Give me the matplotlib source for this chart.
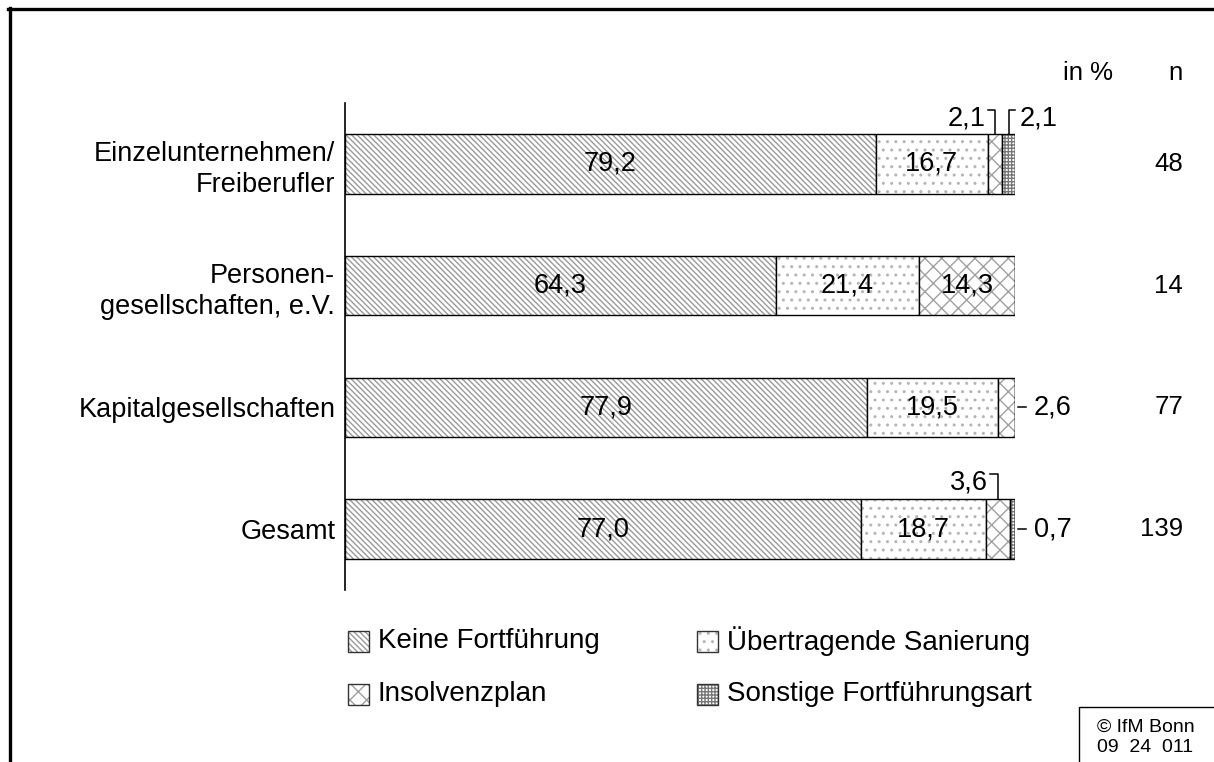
import matplotlib
matplotlib.use("Agg")
import matplotlib.pyplot as plt
from matplotlib.patches import Rectangle
from matplotlib.lines import Line2D

plt.rcParams['font.family'] = ['Liberation Sans', 'DejaVu Sans']
plt.rcParams['hatch.linewidth'] = 1.0

categories = ["Einzelunternehmen/\nFreiberufler", "Personen-\ngesellschaften, e.V.",
              "Kapitalgesellschaften", "Gesamt"]
series_names = ["Keine Fortführung", "Übertragende Sanierung", "Insolvenzplan",
                "Sonstige Fortführungsart"]
keine = [79.2, 64.3, 77.9, 77.0]
uebertragend = [16.7, 21.4, 19.5, 18.7]
insolvenzplan = [2.1, 14.3, 2.6, 3.6]
sonstige = [2.1, 0.0, 0.0, 0.7]
n_values = [48, 14, 77, 139]

series = [keine, uebertragend, insolvenzplan, sonstige]
hatches = ['\\\\\\\\\\\\', '..', 'xx', '+++++']
hatch_colors = ['#9a9a9a', '#b5b5b5', '#a0a0a0', '#777777']

W, H = 1214, 762
fig = plt.figure(figsize=(W / 100, H / 100), dpi=100)

def fx(px):
    return px / W

def fy(py):
    return 1 - py / H

FS_CAT = 19.5
FS_VAL = 19.5
FS_N = 18.5
FS_LEG = 20

ax = fig.add_axes([fx(345), fy(590), fx(1015) - fx(345), fy(103) - fy(590)])
ax.set_xlim(0, 100)
ax.set_ylim(3.5, -0.5)
for s in ['top', 'right', 'bottom']:
    ax.spines[s].set_visible(False)
ax.spines['left'].set_linewidth(1.2)
ax.set_xticks([])
ax.set_yticks(range(len(categories)))
ax.set_yticklabels(categories, fontsize=FS_CAT, ha='right', linespacing=1.25)
ax.tick_params(axis='y', length=0, pad=7)

ypos = list(range(len(categories)))
bh = 0.49
left = [0.0] * len(categories)
for vals, hatch, hc, name in zip(series, hatches, hatch_colors, series_names):
    ax.barh(ypos, vals, left=left, height=bh, color='white', edgecolor=hc,
            hatch=hatch, linewidth=0)
    ax.barh(ypos, vals, left=left, height=bh, fill=False, edgecolor='black',
            linewidth=1.0)
    left = [l + v for l, v in zip(left, vals)]

def fmt(v):
    return f"{v:.1f}".replace('.', ',')

# value labels inside segments
for i in ypos:
    ax.text(keine[i] / 2, i, fmt(keine[i]), ha='center', va='center', fontsize=FS_VAL)
    ax.text(keine[i] + uebertragend[i] / 2, i, fmt(uebertragend[i]),
            ha='center', va='center', fontsize=FS_VAL)
    if insolvenzplan[i] > 10:
        ax.text(keine[i] + uebertragend[i] + insolvenzplan[i] / 2, i,
                fmt(insolvenzplan[i]), ha='center', va='center', fontsize=FS_VAL)

lk = dict(color='black', lw=1.1, clip_on=False)
# Einzelunternehmen: two brackets above
i = 0
x_ins = keine[i] + uebertragend[i] + insolvenzplan[i] / 2
x_son = keine[i] + uebertragend[i] + insolvenzplan[i] + sonstige[i] / 2
ytop = i - bh / 2
yb = ytop - 0.195
ax.plot([x_ins - 1.0, x_ins, x_ins], [yb, yb, ytop], **lk)
ax.text(x_ins - 1.3, yb + 0.07, fmt(insolvenzplan[i]), ha='right', va='center', fontsize=FS_VAL)
ax.plot([x_son + 1.0, x_son, x_son], [yb, yb, ytop], **lk)
ax.text(x_son + 1.7, yb + 0.07, fmt(sonstige[i]), ha='left', va='center', fontsize=FS_VAL)

# Kapitalgesellschaften: dash to the right
i = 2
ax.plot([100.4, 101.7], [i, i], **lk)
ax.text(102.8, i, fmt(insolvenzplan[i]), ha='left', va='center', fontsize=FS_VAL)

# Gesamt: bracket above for Insolvenzplan, dash right for Sonstige
i = 3
x_ins = keine[i] + uebertragend[i] + insolvenzplan[i] / 2
ytop = i - bh / 2
yb = ytop - 0.21
ax.plot([x_ins - 1.3, x_ins, x_ins], [yb, yb, ytop], **lk)
ax.text(x_ins - 1.6, yb + 0.07, fmt(insolvenzplan[i]), ha='right', va='center', fontsize=FS_VAL)
ax.plot([100.4, 101.7], [i, i], **lk)
ax.text(102.8, i, fmt(sonstige[i]), ha='left', va='center', fontsize=FS_VAL)

# n column and header
fig.canvas.draw()
for i, nv in zip(ypos, n_values):
    y_disp = ax.transData.transform((0, i))[1]
    fig.text(fx(1183), y_disp / H, str(nv), ha='right', va='center', fontsize=FS_N)
fig.text(fx(1088), fy(73), "in %", ha='center', va='center', fontsize=FS_N)
fig.text(fx(1183), fy(73), "n", ha='right', va='center', fontsize=FS_N)

# legend (manual)
leg_items = [(348, 641), (697, 641), (348, 694), (697, 694)]
for (lx, ly), hatch, hc, name in zip(leg_items, hatches, hatch_colors, series_names):
    sq = 21
    r = Rectangle((fx(lx), fy(ly + sq / 2)), sq / W, sq / H, transform=fig.transFigure,
                  facecolor='white', edgecolor=hc, hatch=hatch, linewidth=0)
    fig.add_artist(r)
    r2 = Rectangle((fx(lx), fy(ly + sq / 2)), sq / W, sq / H, transform=fig.transFigure,
                   fill=False, edgecolor='#333333', linewidth=1.0)
    fig.add_artist(r2)
    fig.text(fx(lx + sq + 9), fy(ly), name, ha='left', va='center', fontsize=FS_LEG)

# frame lines
fig.add_artist(Line2D([fx(8), fx(1214)], [fy(8.5), fy(8.5)], transform=fig.transFigure,
                      color='black', lw=2.4))
fig.add_artist(Line2D([fx(9.5), fx(9.5)], [fy(7.5), fy(762)], transform=fig.transFigure,
                      color='black', lw=2.4))

# copyright box
box = Rectangle((fx(1079), fy(780)), (1230 - 1079) / W, (780 - 707) / H,
                transform=fig.transFigure, fill=False, edgecolor='black', lw=1.0)
fig.add_artist(box)
fig.text(fx(1097), fy(727), "© IfM Bonn", ha='left', va='center', fontsize=14)
fig.text(fx(1097), fy(748), "09  24  011", ha='left', va='center', fontsize=14)

fig.savefig("out.png", dpi=100, facecolor='white')
